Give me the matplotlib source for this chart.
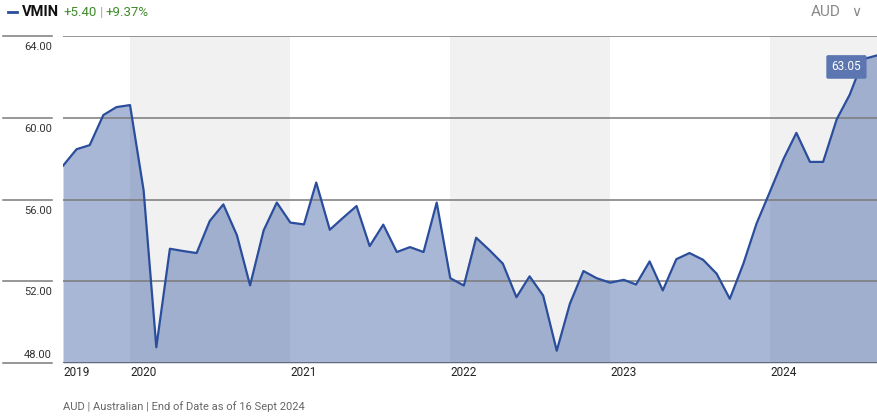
import pandas as pd
import matplotlib
matplotlib.use("Agg")
import matplotlib.pyplot as plt
from matplotlib.lines import Line2D

plt.rcParams['font.family'] = ['Roboto', 'DejaVu Sans']

# monthly closes, Aug 2019 .. Sep 2024
dates = pd.date_range("2019-08-01", "2024-09-01", freq="MS")
prices = [57.65, 58.46, 58.66, 60.13, 60.52, 60.62, 56.45, 48.77, 53.59, 53.48,
          53.38, 54.95, 55.76, 54.25, 51.80, 54.49, 55.85, 54.87, 54.78, 56.83,
          54.52, 55.10, 55.68, 53.72, 54.77, 53.43, 53.67, 53.43, 55.85, 52.15,
          51.79, 54.13, 53.51, 52.86, 51.22, 52.24, 51.30, 48.60, 50.90, 52.50,
          52.15, 51.93, 52.07, 51.84, 52.97, 51.55, 53.08, 53.38, 53.05, 52.37,
          51.14, 52.86, 54.82, 56.40, 58.00, 59.26, 57.84, 57.84, 59.92, 61.14,
          62.87, 63.05]
years = [2019, 2020, 2021, 2022, 2023, 2024]
shaded_years = [2020, 2022, 2024]
yticks = [48, 52, 56, 60, 64]
ticker = "VMIN"
change = "+5.40"
change_pct = "+9.37%"
currency = "AUD"
footer = "AUD | Australian | End of Date as of 16 Sept 2024"

line_col = "#2a4d9c"

fig = plt.figure(figsize=(8.78, 4.19), dpi=100)
ax = fig.add_axes([63 / 878, 1 - 363 / 419, 814 / 878, 327 / 419])

xmin, xmax = dates[0], dates[-1]
for yr in shaded_years:
    a = max(pd.Timestamp(f"{yr}-01-01"), xmin)
    b = min(pd.Timestamp(f"{yr + 1}-01-01"), xmax)
    ax.axvspan(a, b, color="#f1f1f1", lw=0, zorder=0)

ax.fill_between(dates, prices, 48, color=line_col, alpha=0.4, lw=0, zorder=2)
ax.plot(dates, prices, color=line_col, lw=1.6, zorder=4)

ax.set_xlim(xmin, xmax)
ax.set_ylim(48, 64)

# horizontal grid, also stretched into the label area on the left
ytr = ax.get_yaxis_transform()
for v in yticks:
    c = "#555555" if v == 48 else "#7a7a7a"
    ax.axhline(v, color=c, lw=1.1, zorder=3)
    ax.add_line(Line2D([-60 / 814, -11 / 814], [v, v], transform=ytr,
                       color="#7a7a7a", lw=1.1, clip_on=False))
    off = 8 if v == 48 else -11
    ax.annotate(f"{v:.2f}", xy=(-11 / 814, v), xycoords=ytr,
                xytext=(0, off * 0.72), textcoords="offset points",
                ha="right", va="center", fontsize=8, color="#333333")

for s in ax.spines.values():
    s.set_visible(False)
ax.set_yticks([])
ax.set_xticks([])

xtr = ax.get_xaxis_transform()
for yr in years:
    d = max(pd.Timestamp(f"{yr}-01-01"), xmin)
    ax.text(d, -0.008, str(yr), transform=xtr, ha="left", va="top",
            fontsize=8.5, color="#222222")

# last value label
ax.annotate(f"{prices[-1]:.2f}", xy=(dates[-1], prices[-1]),
            xytext=(-22, -8.3), textcoords="offset points",
            ha="center", va="center", fontsize=8.5, color="white",
            bbox=dict(boxstyle="round,pad=0.45,rounding_size=0.15",
                      fc="#5b76b0", ec="none"), zorder=6)

# header, pieces placed one after another
fig.add_artist(Line2D([8 / 878, 17 / 878], [1 - 12 / 419, 1 - 12 / 419],
                      color=line_col, lw=2))
renderer = fig.canvas.get_renderer()
x = 22
pieces = [(ticker, "#111111", "bold", 10.5, 4),
          (change, "#3f8a2a", "normal", 9.5, 3),
          ("|", "#aaaaaa", "normal", 9.5, 3),
          (change_pct, "#3f8a2a", "normal", 9.5, 0)]
for s, c, w, fs, gap in pieces:
    t = fig.text(x / 878, 1 - 12 / 419, s, fontsize=fs, fontweight=w, color=c,
                 va="center", ha="left")
    x += t.get_window_extent(renderer).width + gap

fig.text(811 / 878, 1 - 12 / 419, currency, fontsize=11, color="#888888",
         va="center", ha="left")
fig.text(851 / 878, 1 - 12 / 419, "\u2228", fontsize=10, color="#888888",
         va="center", ha="left", family="DejaVu Sans")

fig.text(63 / 878, 1 - 407 / 419, footer, fontsize=8, color="#666666",
         va="center", ha="left")

fig.savefig("out.png", dpi=100)
